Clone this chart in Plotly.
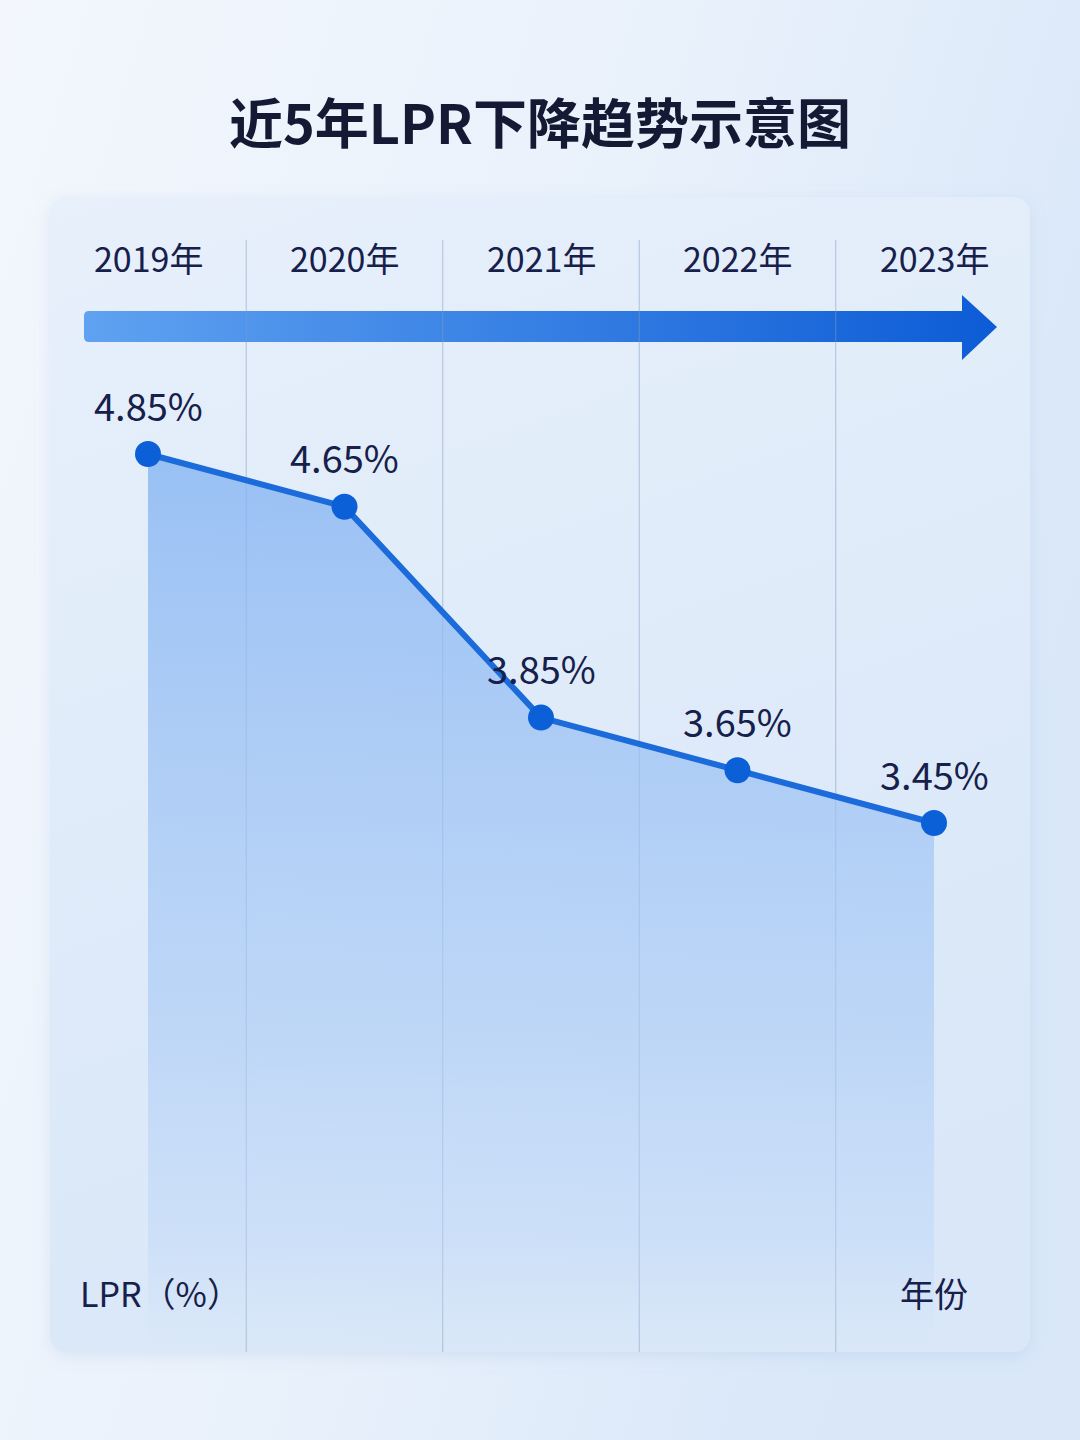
import base64
import plotly.graph_objects as go

# data
years = ["2019年", "2020年", "2021年", "2022年", "2023年"]
lpr = [4.85, 4.65, 3.85, 3.65, 3.45]
lpr_labels = ["4.85%", "4.65%", "3.85%", "3.65%", "3.45%"]

W, H = 1080, 1440
FONT = "Noto Sans CJK SC"
INK = "#16204a"

# pixel anchors taken from the reference layout
x_first_px, x_step_px = 148, 196.5
y_max_px, y_min_px = 454, 823
panel_bottom_px = 1352

xr = [-x_first_px / x_step_px, (W - x_first_px) / x_step_px]
scale = (y_min_px - y_max_px) / (max(lpr) - min(lpr))
y_top = max(lpr) + y_max_px / scale
y_bot = y_top - H / scale
base = y_top - panel_bottom_px / scale

def py(p):
    return 1 - p / H

# background, panel and arrow as one svg
svg = f"""<svg xmlns='http://www.w3.org/2000/svg' width='{W}' height='{H}' viewBox='0 0 {W} {H}'>
<defs>
<linearGradient id='bg' x1='0' y1='0' x2='1' y2='0.4'>
<stop offset='0' stop-color='#f3f7fd'/><stop offset='0.55' stop-color='#e9f1fb'/><stop offset='1' stop-color='#d9e7f9'/>
</linearGradient>
<linearGradient id='pn' x1='0' y1='0' x2='0.3' y2='1'>
<stop offset='0' stop-color='#e7f0fb'/><stop offset='1' stop-color='#d9e7f8'/>
</linearGradient>
<linearGradient id='ar' x1='0' y1='0' x2='1' y2='0'>
<stop offset='0' stop-color='#5fa2f1'/><stop offset='1' stop-color='#0d5cd6'/>
</linearGradient>
<filter id='sh' x='-5%' y='-5%' width='110%' height='110%'>
<feDropShadow dx='0' dy='4' stdDeviation='8' flood-color='#7f9fcc' flood-opacity='0.18'/>
</filter>
</defs>
<rect width='{W}' height='{H}' fill='url(#bg)'/>
<rect x='50' y='197' width='980' height='1155' rx='16' fill='url(#pn)' filter='url(#sh)'/>
<path d='M89 311 L962 311 L962 295 L997 327 L962 360 L962 342 L89 342 Q84 342 84 337 L84 316 Q84 311 89 311 Z' fill='url(#ar)'/>
</svg>"""
src = "data:image/svg+xml;base64," + base64.b64encode(svg.encode("utf-8")).decode()

fig = go.Figure()

# invisible baseline for the area fill
fig.add_trace(go.Scatter(
    x=list(range(len(years))), y=[base] * len(years),
    mode="lines", line=dict(width=0), hoverinfo="skip", showlegend=False,
))
fig.add_trace(go.Scatter(
    x=list(range(len(years))), y=lpr,
    mode="lines+markers",
    fill="tonexty",
    fillgradient=dict(
        type="vertical",
        colorscale=[[0, "rgba(200,222,250,0.0)"], [0.12, "rgba(185,212,248,0.4)"],
                    [0.35, "rgba(170,203,246,0.6)"], [1, "rgba(128,177,242,0.75)"]],
    ),
    line=dict(color="#1c6bdb", width=6),
    marker=dict(size=26, color="#0b5fd7"),
    hovertemplate="%{text}<extra></extra>", text=lpr_labels,
    showlegend=False,
))

shapes = []
for i in range(len(years) - 1):
    shapes.append(dict(
        type="line", xref="x", yref="paper",
        x0=i + 0.5, x1=i + 0.5, y0=py(240), y1=py(panel_bottom_px),
        line=dict(color="rgba(130,155,190,0.55)", width=1), layer="below",
    ))

annotations = [dict(
    text="<b>近5年LPR下降趋势示意图</b>", xref="paper", yref="paper",
    x=0.5, y=py(120), xanchor="center", yanchor="middle", showarrow=False,
    font=dict(family=FONT, size=54, color="#141a33"),
)]
for i, yr in enumerate(years):
    annotations.append(dict(
        text=yr, xref="x", yref="paper", x=i, y=py(257),
        xanchor="center", yanchor="middle", showarrow=False,
        font=dict(family=FONT, size=34, color=INK),
    ))
for i, (v, lab) in enumerate(zip(lpr, lpr_labels)):
    annotations.append(dict(
        text=lab, xref="x", yref="y", x=i, y=v, yshift=50,
        xanchor="center", yanchor="middle", showarrow=False,
        font=dict(family=FONT, size=38, color=INK),
    ))
annotations.append(dict(
    text="LPR（%）", xref="paper", yref="paper", x=78 / W, y=py(1292),
    xanchor="left", yanchor="middle", showarrow=False,
    font=dict(family=FONT, size=34, color=INK),
))
annotations.append(dict(
    text="年份", xref="x", yref="paper", x=len(years) - 1, y=py(1292),
    xanchor="center", yanchor="middle", showarrow=False,
    font=dict(family=FONT, size=34, color=INK),
))

fig.update_layout(
    width=W, height=H,
    margin=dict(l=0, r=0, t=0, b=0),
    paper_bgcolor="#eaf1fb",
    plot_bgcolor="rgba(0,0,0,0)",
    xaxis=dict(range=xr, visible=False, fixedrange=True),
    yaxis=dict(range=[y_bot, y_top], visible=False, fixedrange=True),
    images=[dict(source=src, xref="paper", yref="paper", x=0, y=1,
                 sizex=1, sizey=1, sizing="stretch", layer="below")],
    shapes=shapes,
    annotations=annotations,
    showlegend=False,
)

fig.write_html("out.html", config={"displayModeBar": False},
               post_script="document.body.style.margin='0';")
